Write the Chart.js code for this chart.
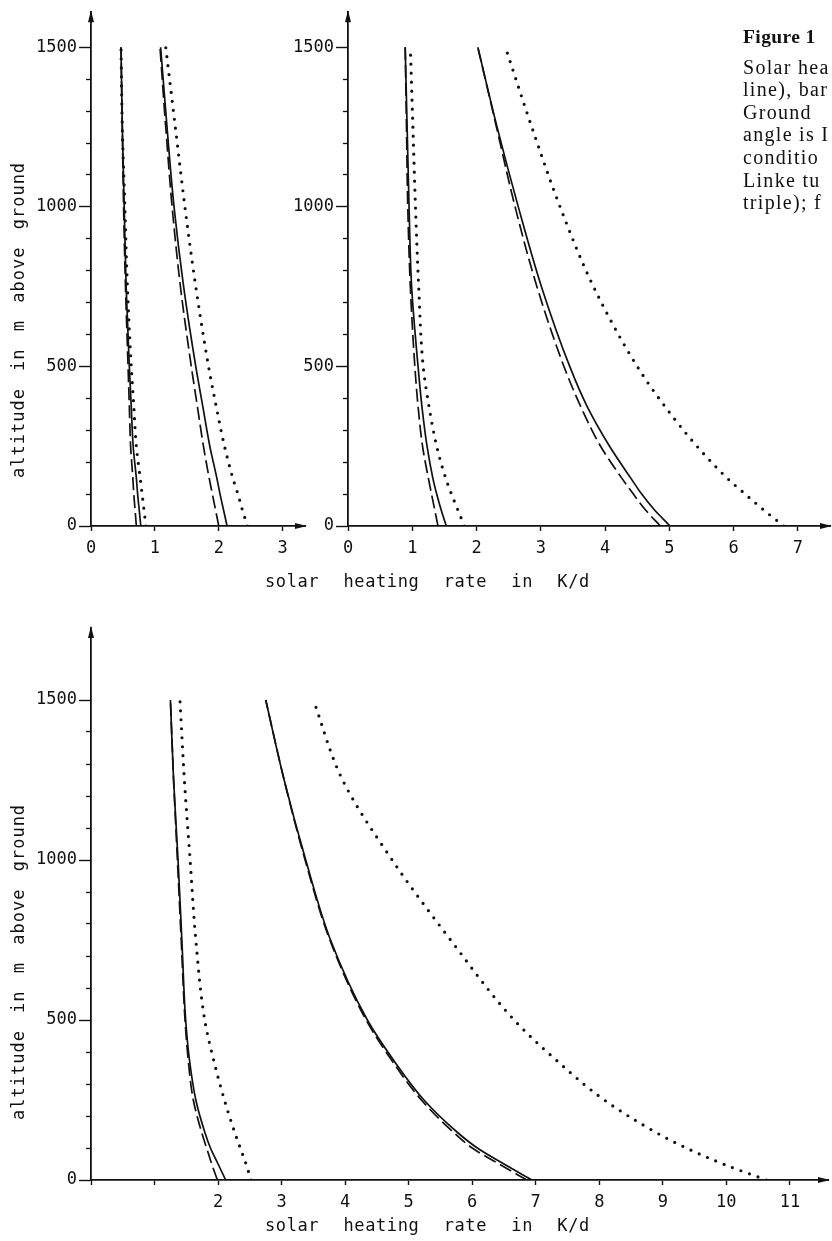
<!DOCTYPE html>
<html>
<head>
<meta charset="utf-8">
<title>Solar heating rate profiles</title>
<script src="https://cdn.jsdelivr.net/npm/chart.js@4.4.1/dist/chart.umd.min.js"></script>
<style>
  html, body { margin: 0; padding: 0; background: #fff; }
  body { width: 832px; height: 1241px; position: relative; overflow: hidden; }
  canvas { position: absolute; }
  #caption {
    position: absolute; left: 743px; top: 26px;
    font-family: "Liberation Serif", "DejaVu Serif", serif;
    font-size: 20px; line-height: 22.6px; letter-spacing: 1.3px;
    color: #111; white-space: nowrap;
  }
  #caption .head { font-weight: bold; font-size: 19.5px; letter-spacing: 0.4px; margin-bottom: 7px; }
</style>
</head>
<body>
<canvas id="panelLeft" width="310" height="600" style="left:0;top:0"></canvas>
<canvas id="panelRight" width="572" height="600" style="left:260px;top:0"></canvas>
<canvas id="panelLower" width="832" height="641" style="left:0;top:600px"></canvas>
<div id="caption">
  <div class="head">Figure 1</div>
  <div>Solar hea</div>
  <div>line), bar</div>
  <div>Ground</div>
  <div>angle is I</div>
  <div>conditio</div>
  <div>Linke tu</div>
  <div>triple); f</div>
</div>
<script>
// altitude levels (m above ground) the profiles are given at
const altitudes = [0, 50, 100, 150, 250, 375, 500, 750, 1000, 1250, 1500];

// upper left panel, heating rate in K/d
const leftLowSolid   = [0.78, 0.755, 0.73, 0.71, 0.66, 0.63, 0.60, 0.55, 0.52, 0.49, 0.47];
const leftLowDashed  = [0.71, 0.69, 0.67, 0.655, 0.62, 0.60, 0.58, 0.54, 0.51, 0.49, 0.47];
const leftLowDotted  = [0.86, 0.83, 0.80, 0.77, 0.71, 0.67, 0.63, 0.57, 0.53, 0.49, 0.47];
const leftHighSolid  = [2.13, 2.075, 2.02, 1.97, 1.86, 1.75, 1.64, 1.45, 1.30, 1.19, 1.09];
const leftHighDashed = [2.00, 1.95, 1.90, 1.85, 1.76, 1.665, 1.57, 1.40, 1.27, 1.17, 1.08];
const leftHighDotted = [2.45, 2.37, 2.30, 2.22, 2.09, 1.96, 1.84, 1.64, 1.47, 1.32, 1.17];

// upper right panel
const rightLowSolid   = [1.53, 1.45, 1.38, 1.32, 1.23, 1.15, 1.09, 0.99, 0.95, 0.92, 0.89];
const rightLowDashed  = [1.40, 1.35, 1.30, 1.25, 1.16, 1.09, 1.04, 0.97, 0.93, 0.91, 0.89];
const rightLowDotted  = [1.81, 1.71, 1.61, 1.52, 1.38, 1.26, 1.17, 1.10, 1.05, 1.01, 0.97];
const rightHighSolid  = [5.01, 4.77, 4.57, 4.40, 4.07, 3.72, 3.45, 3.01, 2.65, 2.32, 2.02];
const rightHighDashed = [4.86, 4.63, 4.44, 4.26, 3.93, 3.62, 3.36, 2.94, 2.60, 2.31, 2.02];
const rightHighDotted = [6.78, 6.47, 6.18, 5.90, 5.43, 4.93, 4.50, 3.82, 3.30, 2.86, 2.45];

// lower panel
const lowerLowSolid   = [2.12, 2.00, 1.88, 1.79, 1.65, 1.55, 1.49, 1.43, 1.37, 1.30, 1.25];
const lowerLowDashed  = [1.99, 1.90, 1.82, 1.74, 1.61, 1.53, 1.48, 1.42, 1.36, 1.30, 1.25];
const lowerLowDotted  = [2.52, 2.44, 2.35, 2.26, 2.10, 1.93, 1.79, 1.65, 1.56, 1.47, 1.40];
const lowerHighSolid  = [6.94, 6.50, 6.08, 5.76, 5.24, 4.76, 4.35, 3.77, 3.38, 3.04, 2.75];
const lowerHighDashed = [6.86, 6.42, 6.00, 5.70, 5.20, 4.73, 4.33, 3.76, 3.37, 3.04, 2.75];
const lowerHighDotted = [10.63, 9.95, 9.37, 8.88, 8.08, 7.32, 6.66, 5.66, 4.74, 3.96, 3.50];

// axis ticks
const altitudeLabels = [0, 500, 1000, 1500];
const altitudeMinor = [100, 200, 300, 400, 600, 700, 800, 900, 1100, 1200, 1300, 1400];
const leftRateTicks = [0, 1, 2, 3];
const rightRateTicks = [0, 1, 2, 3, 4, 5, 6, 7];
const lowerRateTicks = [0, 1, 2, 3, 4, 5, 6, 7, 8, 9, 10, 11];
const lowerRateLabels = [2, 3, 4, 5, 6, 7, 8, 9, 10, 11];

const X_TITLE = 'solar heating rate in K/d';
const Y_TITLE = 'altitude in m above ground';
const INK = '#111';

// plotter-like lettering
Chart.defaults.font.family = '"DejaVu Sans Mono", monospace';
Chart.defaults.font.size = 17;
Chart.defaults.color = INK;

function profile(values) {
  return values.map((v, i) => ({ x: v, y: altitudes[i] }));
}

function curve(values, style) {
  const ds = {
    data: profile(values),
    yAxisID: 'y',
    borderColor: INK,
    borderWidth: 1.7,
    pointRadius: 0,
    fill: false,
    cubicInterpolationMode: 'monotone'
  };
  if (style === 'dashed') ds.borderDash = [13, 5];
  if (style === 'dotted') {
    ds.borderWidth = 3.2;
    ds.borderDash = [0, 9];
    ds.borderCapStyle = 'round';
  }
  return ds;
}

// small filled arrowheads at the ends of both axes
const axisArrows = {
  id: 'axisArrows',
  afterDraw(chart) {
    const { ctx, chartArea: a } = chart;
    ctx.save();
    ctx.fillStyle = INK;
    ctx.beginPath();
    ctx.moveTo(a.right + 2, a.bottom);
    ctx.lineTo(a.right - 10, a.bottom - 3);
    ctx.lineTo(a.right - 10, a.bottom + 3);
    ctx.closePath();
    ctx.fill();
    ctx.beginPath();
    ctx.moveTo(a.left, a.top - 2);
    ctx.lineTo(a.left - 3, a.top + 10);
    ctx.lineTo(a.left + 3, a.top + 10);
    ctx.closePath();
    ctx.fill();
    ctx.restore();
  }
};

// axis titles are set with wide letter spacing, and can be nudged
function spacedTitles(settings) {
  return {
    id: 'spacedTitles',
    afterLayout(chart) {
      Object.values(chart.scales).forEach(scale => {
        const cfg = settings[scale.id];
        if (!cfg || scale._spaced || typeof scale.drawTitle !== 'function') return;
        const draw = scale.drawTitle;
        scale.drawTitle = function () {
          const ctx = this.ctx;
          ctx.save();
          ctx.letterSpacing = cfg.letterSpacing + 'px';
          ctx.wordSpacing = cfg.wordSpacing + 'px';
          ctx.translate(cfg.dx || 0, cfg.dy || 0);
          draw.apply(this, arguments);
          ctx.restore();
        };
        scale._spaced = true;
      });
    }
  };
}

function makePanel(canvasId, p) {
  return new Chart(document.getElementById(canvasId), {
    type: 'line',
    data: { datasets: p.curves },
    options: {
      responsive: false,
      animation: false,
      indexAxis: 'y',
      layout: { padding: p.padding },
      plugins: { legend: { display: false }, tooltip: { enabled: false } },
      scales: {
        x: {
          type: 'linear',
          min: 0,
          max: p.xMax,
          afterBuildTicks: s => { s.ticks = p.xTicks.map(v => ({ value: v })); },
          afterFit: s => { s.height = p.xHeight; },
          ticks: {
            autoSkip: false,
            maxRotation: 0,
            padding: 7,
            callback: v => p.xLabels.includes(v) ? String(v) : ''
          },
          grid: { drawOnChartArea: false, tickLength: 5, tickColor: INK, tickWidth: 1.4 },
          border: { color: INK, width: 1.8 },
          title: p.xTitle
            ? { display: true, text: X_TITLE, align: 'start', padding: { top: 0, bottom: p.xTitlePad } }
            : { display: false }
        },
        y: {
          type: 'linear',
          position: 'left',
          weight: 1,
          min: 0,
          max: p.yMax,
          afterBuildTicks: s => { s.ticks = altitudeLabels.map(v => ({ value: v })); },
          afterFit: s => { s.width = p.yWidth; },
          ticks: { autoSkip: false, padding: 2, callback: v => String(v) },
          grid: { drawOnChartArea: false, tickLength: 12, tickColor: INK, tickWidth: 1.4 },
          border: { color: INK, width: 1.8 },
          title: p.yTitle
            ? { display: true, text: Y_TITLE, align: 'start', padding: { top: 9, bottom: 0 } }
            : { display: false }
        },
        yMinor: {
          type: 'linear',
          position: 'left',
          weight: 0,
          min: 0,
          max: p.yMax,
          afterBuildTicks: s => { s.ticks = altitudeMinor.map(v => ({ value: v })); },
          afterFit: s => { s.width = 0; },
          ticks: { autoSkip: false, padding: 0, callback: () => '' },
          grid: { drawOnChartArea: false, tickLength: 5, tickColor: INK, tickWidth: 1.3 },
          border: { display: false }
        }
      }
    },
    plugins: [axisArrows, spacedTitles(p.titles)]
  });
}

const xTitleSpacing = { letterSpacing: 0.6, wordSpacing: 13.5 };
const yTitleSpacing = { letterSpacing: 1, wordSpacing: 6 };

makePanel('panelLeft', {
  curves: [
    curve(leftLowSolid, 'solid'), curve(leftLowDashed, 'dashed'), curve(leftLowDotted, 'dotted'),
    curve(leftHighSolid, 'solid'), curve(leftHighDashed, 'dashed'), curve(leftHighDotted, 'dotted')
  ],
  padding: { top: 10, right: 5, bottom: 0, left: 0 },
  xMax: 3.35, yMax: 1610,
  xTicks: leftRateTicks, xLabels: leftRateTicks,
  xHeight: 74, yWidth: 91,
  xTitle: false, yTitle: true,
  titles: { y: { ...yTitleSpacing, dx: 0, dy: -48 } }
});

makePanel('panelRight', {
  curves: [
    curve(rightLowSolid, 'solid'), curve(rightLowDashed, 'dashed'), curve(rightLowDotted, 'dotted'),
    curve(rightHighSolid, 'solid'), curve(rightHighDashed, 'dashed'), curve(rightHighDotted, 'dotted')
  ],
  padding: { top: 10, right: 2, bottom: 0, left: 0 },
  xMax: 7.5, yMax: 1610,
  xTicks: rightRateTicks, xLabels: rightRateTicks,
  xHeight: 74, yWidth: 88,
  xTitle: true, xTitlePad: 7, yTitle: false,
  titles: { x: { ...xTitleSpacing, dx: -83, dy: 0 } }
});

makePanel('panelLower', {
  curves: [
    curve(lowerLowSolid, 'solid'), curve(lowerLowDashed, 'dashed'), curve(lowerLowDotted, 'dotted'),
    curve(lowerHighSolid, 'solid'), curve(lowerHighDashed, 'dashed'), curve(lowerHighDotted, 'dotted')
  ],
  padding: { top: 28, right: 4, bottom: 0, left: 0 },
  xMax: 11.6, yMax: 1725,
  xTicks: lowerRateTicks, xLabels: lowerRateLabels,
  xHeight: 61, yWidth: 91,
  xTitle: true, xTitlePad: 4, yTitle: true,
  titles: {
    x: { ...xTitleSpacing, dx: 174, dy: 0 },
    y: { ...yTitleSpacing, dx: 0, dy: -60 }
  }
});
</script>
</body>
</html>
